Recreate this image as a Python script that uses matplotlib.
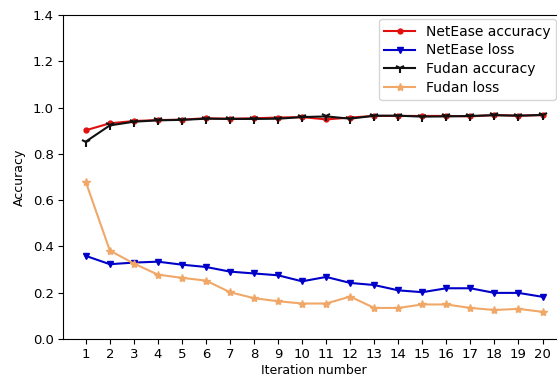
import matplotlib
matplotlib.use("Agg")
import matplotlib.pyplot as plt

iterations = list(range(1, 21))
netease_acc = [0.902, 0.932, 0.942, 0.946, 0.948, 0.954, 0.952, 0.954, 0.957, 0.959,
               0.949, 0.957, 0.964, 0.964, 0.964, 0.964, 0.962, 0.968, 0.965, 0.968]
netease_loss = [0.359, 0.323, 0.330, 0.334, 0.321, 0.311, 0.291, 0.283, 0.275, 0.249,
                0.268, 0.242, 0.233, 0.210, 0.202, 0.219, 0.219, 0.199, 0.199, 0.182]
fudan_acc = [0.853, 0.923, 0.939, 0.945, 0.947, 0.952, 0.951, 0.951, 0.952, 0.959,
             0.962, 0.952, 0.965, 0.965, 0.961, 0.962, 0.964, 0.967, 0.965, 0.968]
fudan_loss = [0.679, 0.382, 0.326, 0.278, 0.264, 0.252, 0.202, 0.176, 0.163, 0.153,
              0.153, 0.183, 0.134, 0.134, 0.149, 0.149, 0.134, 0.125, 0.130, 0.117]

fig = plt.figure(figsize=(5.57, 3.77), dpi=100)
ax = fig.add_axes([0.113, 0.101, 0.902, 0.859])

ax.plot(iterations, netease_acc, "o-", color="#e01010", markersize=3.5, label="NetEase accuracy")
ax.plot(iterations, netease_loss, "v-", color="#0000c8", markersize=5, label="NetEase loss")
ax.plot(iterations, fudan_acc, "1-", color="#111111", markersize=7, markeredgewidth=1.5, label="Fudan accuracy")
ax.plot(iterations, fudan_loss, "*-", color="#f0a868", markersize=6, label="Fudan loss")

ax.set_ylim(0, 1.4)
ax.set_xticks(iterations)
ax.set_xlabel("Iteration number", fontsize=9, labelpad=2)
ax.set_ylabel("Accuracy", fontsize=9, labelpad=5)
ax.tick_params(labelsize=9.5, pad=3)
ax.legend(loc="upper right", bbox_to_anchor=(0.99, 1.0), fontsize=10,
          borderaxespad=0.3, handlelength=2.2, labelspacing=0.33)

fig.savefig("out.png", dpi=100)
